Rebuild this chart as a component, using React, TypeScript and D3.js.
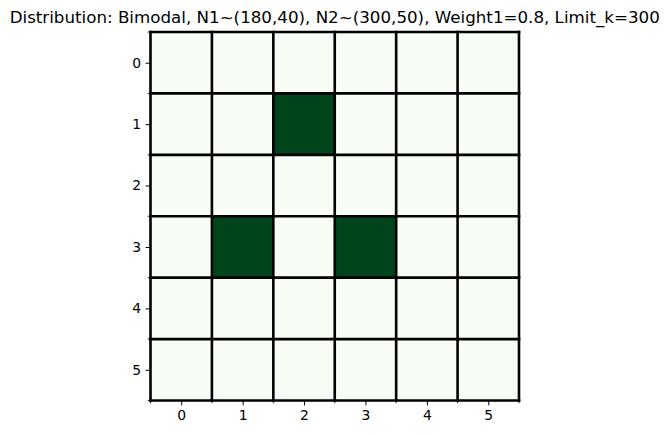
import React, { useEffect, useRef } from "react";
import * as d3 from "d3";

const title = "Distribution: Bimodal, N1~(180,40), N2~(300,50), Weight1=0.8, Limit_k=300";
const rowLabels = ["0", "1", "2", "3", "4", "5"];
const colLabels = ["0", "1", "2", "3", "4", "5"];
const grid: number[][] = [
    [0, 0, 0, 0, 0, 0],
    [0, 0, 1, 0, 0, 0],
    [0, 0, 0, 0, 0, 0],
    [0, 1, 0, 1, 0, 0],
    [0, 0, 0, 0, 0, 0],
    [0, 0, 0, 0, 0, 0],
];

export default function App() {
    const svgRef = useRef<SVGSVGElement | null>(null);

    useEffect(() => {
        if (!svgRef.current) return;
        const width = 667, height = 435;
        const left = 150.5, top = 32, size = 368.5;

        const svg = d3.select(svgRef.current);
        svg.selectAll("*").remove();
        svg.attr("width", width).attr("height", height);

        const font = "DejaVu Sans, sans-serif";

        // linear scales: cells span value-0.5 .. value+0.5, ticks at centres
        const x = d3.scaleLinear().domain([-0.5, 5.5]).range([left, left + size]);
        const y = d3.scaleLinear().domain([-0.5, 5.5]).range([top, top + size]);
        const color = d3.scaleLinear<string>().domain([0, 1]).range(["#f7fcf5", "#00441b"]);

        const cells = grid.flatMap((row, r) => row.map((v, c) => ({ r, c, v })));
        svg.append("g")
            .selectAll("rect")
            .data(cells)
            .join("rect")
            .attr("x", d => x(d.c - 0.5))
            .attr("y", d => y(d.r - 0.5))
            .attr("width", x(1) - x(0))
            .attr("height", y(1) - y(0))
            .attr("fill", d => color(d.v));

        // grid lines on cell edges
        const edges = d3.range(-0.5, 6, 1);
        const lw = 2.6;
        svg.append("g")
            .selectAll("line")
            .data(edges)
            .join("line")
            .attr("x1", d => x(d)).attr("x2", d => x(d))
            .attr("y1", top - lw / 2).attr("y2", top + size + lw / 2)
            .attr("stroke", "#000").attr("stroke-width", lw);
        svg.append("g")
            .selectAll("line")
            .data(edges)
            .join("line")
            .attr("y1", d => y(d)).attr("y2", d => y(d))
            .attr("x1", left - lw / 2).attr("x2", left + size + lw / 2)
            .attr("stroke", "#000").attr("stroke-width", lw);

        // major ticks
        const xAxis = d3.axisBottom(x)
            .tickValues(d3.range(0, 6))
            .tickFormat((d) => colLabels[+d])
            .tickSize(4.9).tickPadding(4.5);
        const gx = svg.append("g").attr("transform", `translate(0,${top + size})`).call(xAxis);
        const yAxis = d3.axisLeft(y)
            .tickValues(d3.range(0, 6))
            .tickFormat((d) => rowLabels[+d])
            .tickSize(4.9).tickPadding(4.5);
        const gy = svg.append("g").attr("transform", `translate(${left},0)`).call(yAxis);
        [gx, gy].forEach(g => {
            g.attr("font-size", null).attr("font-family", null);
            g.select(".domain").remove();
            g.selectAll("line").attr("stroke", "#000").attr("stroke-width", 1);
            g.selectAll("text")
                .style("font-family", font)
                .style("font-size", "13.9px")
                .attr("fill", "#000");
        });

        // minor ticks on edges
        svg.append("g")
            .selectAll("line")
            .data(edges)
            .join("line")
            .attr("x1", d => x(d)).attr("x2", d => x(d))
            .attr("y1", top + size).attr("y2", top + size + 2.8)
            .attr("stroke", "#000").attr("stroke-width", 0.8);
        svg.append("g")
            .selectAll("line")
            .data(edges)
            .join("line")
            .attr("y1", d => y(d)).attr("y2", d => y(d))
            .attr("x1", left).attr("x2", left - 2.8)
            .attr("stroke", "#000").attr("stroke-width", 0.8);

        svg.append("text")
            .attr("x", left + size / 2)
            .attr("y", 23)
            .attr("text-anchor", "middle")
            .style("font-family", font)
            .style("font-size", "16.7px")
            .attr("fill", "#000")
            .text(title);
    }, []);

    return (
        <div style={{ position: "absolute", left: 0, top: 0 }}>
            <svg ref={svgRef} />
        </div>
    );
}
